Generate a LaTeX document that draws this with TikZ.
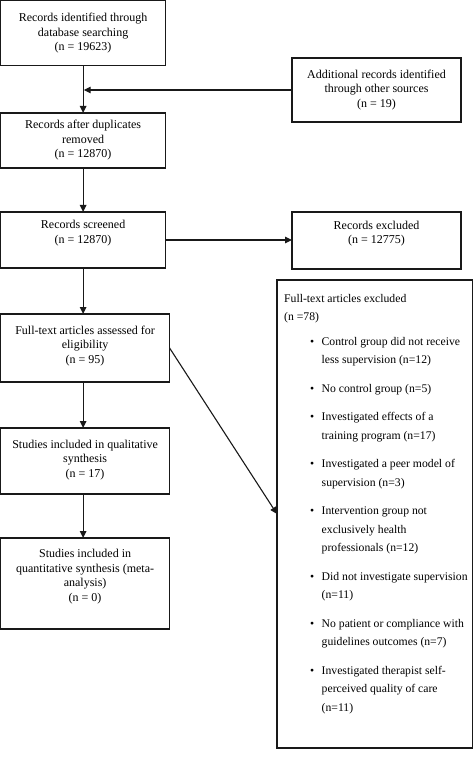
\documentclass[tikz,border=0pt]{standalone}
\usepackage{fontspec}
\setmainfont{Liberation Serif}
\usetikzlibrary{arrows.meta}
\newcommand\xbul{\hspace*{26pt}\makebox[11.5pt][l]{\textbullet}}
\newcommand\xind{\hspace*{37.5pt}}
\tikzset{
  box/.style={draw=black!90, line width=1.2pt, align=center, inner sep=0pt, outer sep=0pt,
    anchor=north west, font=\fontsize{12}{14.5}\selectfont},
  arr/.style={draw=black!90, line width=1.1pt, -{Triangle[length=7pt,width=6.5pt]}},
  plain/.style={draw=black!90, line width=1pt}
}
\begin{document}
\begin{tikzpicture}[x=1pt,y=-1pt]
\fill[white] (0,0) rectangle (474,759);
\useasboundingbox (0,0) rectangle (474,759);
\node[box, minimum width=165pt, minimum height=65pt] (b1) at (0.6,0.6)
  {Records identified through\\database searching\\(n = 19623)};
\node[box, minimum width=169pt, minimum height=64pt] (add) at (292,58)
  {Additional records identified\\through other sources\\(n = 19)};
\node[box, minimum width=165pt, minimum height=55pt] (b3) at (0.6,113)
  {Records after duplicates\\removed\\(n = 12870)};
\node[box, minimum width=165pt, minimum height=56pt] (b4) at (0.6,212)
  {Records screened\\(n = 12870)\\[2pt]\mbox{}};
\node[box, minimum width=169pt, minimum height=57pt] (excl) at (292,212)
  {Records excluded\\(n = 12775)\\[2pt]\mbox{}};
\node[box, minimum width=169pt, minimum height=68pt] (b5) at (0.6,314)
  {Full-text articles assessed for\\eligibility\\(n = 95)\\[-8pt]\mbox{}};
\node[box, minimum width=169pt, minimum height=66pt] (b6) at (0.6,428)
  {Studies included in qualitative\\synthesis\\(n = 17)\\[-10pt]\mbox{}};
\node[box, minimum width=169pt, minimum height=91pt] (b7) at (0.6,538)
  {Studies included in\\quantitative synthesis (meta-\\analysis)\\(n = 0)\\[2pt]\mbox{}};
\node[box, minimum width=195.5pt, minimum height=468pt] (big) at (277,280) {};
\node[anchor=north west, inner sep=0pt, align=left, font=\fontsize{11.7}{18.5}\selectfont] (exltext) at (284,289)
  {\strut Full-text articles excluded\\
   (n =78)\\[6pt]
   \xbul Control group did not receive\\
   \xind less supervision (n=12)\\[10pt]
   \xbul No control group (n=5)\\[10pt]
   \xbul Investigated effects of a\\
   \xind training program (n=17)\\[10pt]
   \xbul Investigated a peer model of\\
   \xind supervision (n=3)\\[10pt]
   \xbul Intervention group not\\
   \xind exclusively health\\
   \xind professionals (n=12)\\[10pt]
   \xbul Did not investigate supervision\\
   \xind (n=11)\\[10pt]
   \xbul No patient or compliance with\\
   \xind guidelines outcomes (n=7)\\[10pt]
   \xbul Investigated therapist self-\\
   \xind perceived quality of care\\
   \xind (n=11)};
\draw[arr] (b1.south) -- (b3.north);
\draw[arr] (add.west) -- ([xshift=0.6pt]add.west -| b1.south);
\draw[arr] (b3.south) -- (b4.north);
\draw[arr] (b4.east) -- (b4.east -| excl.west);
\draw[arr] (b4.south) -- (b4.south |- b5.north);
\draw[arr] (b5.south -| b4.south) -- (b4.south |- b6.north);
\draw[arr] (b6.south -| b4.south) -- (b4.south |- b7.north);
\draw[arr] (b5.east) -- (big.west);
\end{tikzpicture}
\end{document}
